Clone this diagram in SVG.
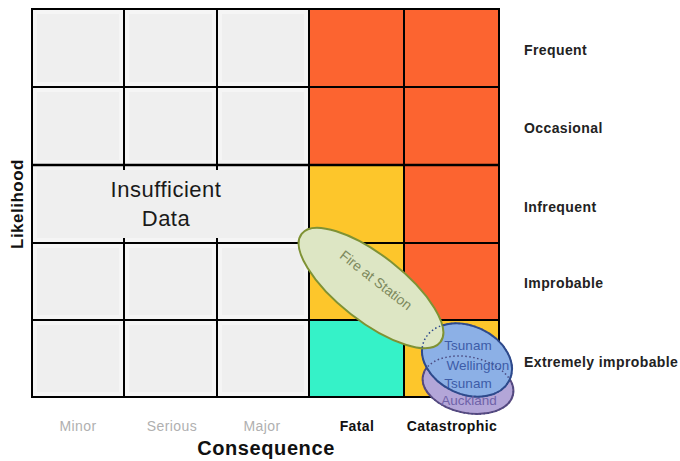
<svg xmlns="http://www.w3.org/2000/svg" width="680" height="461" viewBox="0 0 680 461">
<style>
.g{fill:#efefef;stroke:#f5f5f5;stroke-width:4}
.o{fill:#fc6430}
.y{fill:#fdc62b}
.t{fill:#35f2c8}
.ln{stroke:#000;stroke-width:2;fill:none}
.rl{font-family:"Liberation Sans",Arial,sans-serif;font-size:14px;font-weight:bold;letter-spacing:0.4px;fill:#222}
.cl{font-family:"Liberation Sans",Arial,sans-serif;font-size:14px;letter-spacing:0.4px;text-anchor:middle}
.ax{font-family:"Liberation Sans",Arial,sans-serif;font-weight:bold;fill:#111}
.el{font-family:"Liberation Sans",Arial,sans-serif;font-size:13.5px;text-anchor:middle}
</style>
<rect width="680" height="461" fill="#fff"/>
<g id="grid">
<rect class="g" x="35" y="12" width="86" height="72"/>
<rect class="g" x="127" y="12" width="87" height="72"/>
<rect class="g" x="220" y="12" width="86" height="72"/>
<rect class="g" x="35" y="90" width="86" height="72"/>
<rect class="g" x="127" y="90" width="87" height="72"/>
<rect class="g" x="220" y="90" width="86" height="72"/>
<rect class="g" x="35" y="168" width="271" height="72"/>
<rect class="g" x="35" y="246" width="86" height="71"/>
<rect class="g" x="127" y="246" width="87" height="71"/>
<rect class="g" x="220" y="246" width="86" height="71"/>
<rect class="g" x="35" y="323" width="86" height="71"/>
<rect class="g" x="127" y="323" width="87" height="71"/>
<rect class="g" x="220" y="323" width="86" height="71"/>
<rect class="o" x="309" y="9" width="190" height="156"/>
<rect class="y" x="309" y="165" width="95" height="155"/>
<rect class="o" x="404" y="165" width="95" height="155"/>
<rect class="t" x="309" y="320" width="95" height="77"/>
<rect class="y" x="404" y="320" width="95" height="77"/>
<path class="ln" d="M32 9H499V397H32Z M124 9V170 M217 9V170 M124 238V397 M217 238V397 M309 9V397 M404 9V397 M32 87H499 M32 243H499 M32 320H499"/>
<path d="M32 165H499" stroke="#000" stroke-width="2.5"/>
</g>
<g id="insufficient">
<text x="166" y="197" font-family="Liberation Sans,Arial,sans-serif" font-size="22" letter-spacing="0.5" text-anchor="middle" fill="#1a1a1a">Insufficient</text>
<text x="166" y="226" font-family="Liberation Sans,Arial,sans-serif" font-size="22" letter-spacing="0.5" text-anchor="middle" fill="#1a1a1a">Data</text>
</g>
<g id="likelihood-labels">
<text class="rl" x="524" y="55">Frequent</text>
<text class="rl" x="524" y="133">Occasional</text>
<text class="rl" x="524" y="212">Infrequent</text>
<text class="rl" x="524" y="288">Improbable</text>
<text class="rl" x="524" y="367">Extremely improbable</text>
</g>
<g id="consequence-labels">
<text class="cl" x="78" y="431" fill="#b0b0b0">Minor</text>
<text class="cl" x="172" y="431" fill="#b0b0b0">Serious</text>
<text class="cl" x="262" y="431" fill="#b0b0b0">Major</text>
<text class="cl" x="357" y="431" fill="#111" font-weight="bold">Fatal</text>
<text class="cl" x="452" y="431" fill="#111" font-weight="bold">Catastrophic</text>
</g>
<g id="axes">
<text class="ax" x="266" y="455" font-size="20" letter-spacing="0.6" text-anchor="middle">Consequence</text>
<text class="ax" transform="translate(23,204) rotate(-90)" font-size="17" letter-spacing="0.5" text-anchor="middle">Likelihood</text>
</g>
<g id="tsunami-auckland">
<ellipse cx="468" cy="385" rx="46" ry="28" transform="rotate(12 468 385)" fill="#b3a6d8" stroke="#5a4a80" stroke-width="2"/>
</g>
<g id="tsunami-wellington">
<ellipse cx="467" cy="360" rx="47" ry="34" transform="rotate(25 467 360)" fill="#8cb0e6" stroke="#2e4a8c" stroke-width="2"/>
<ellipse cx="468" cy="385" rx="46" ry="28" transform="rotate(12 468 385)" fill="none" stroke="#4a4a80" stroke-width="1.5" stroke-dasharray="1.5 2.5"/>
<text class="el" x="468" y="350" fill="#3d5ca8">Tsunam</text>
<text class="el" x="478" y="370" fill="#3d5ca8">Wellington</text>
<text class="el" x="468" y="388" fill="#3d5ca8">Tsunam</text>
<text class="el" x="469" y="405" fill="#6f62a8">Auckland</text>
</g>
<g id="fire-at-station">
<ellipse cx="371" cy="288" rx="88" ry="33" transform="rotate(38 371 288)" fill="#dde6c4" stroke="#7f9234" stroke-width="2"/>
<ellipse cx="467" cy="360" rx="47" ry="34" transform="rotate(25 467 360)" fill="none" stroke="#2e4a8c" stroke-width="1.5" stroke-dasharray="1.5 2.5"/>
<text transform="translate(373,284) rotate(38)" font-family="Liberation Sans,Arial,sans-serif" font-size="14" text-anchor="middle" fill="#7d8a5e">Fire at Station</text>
</g>
</svg>
